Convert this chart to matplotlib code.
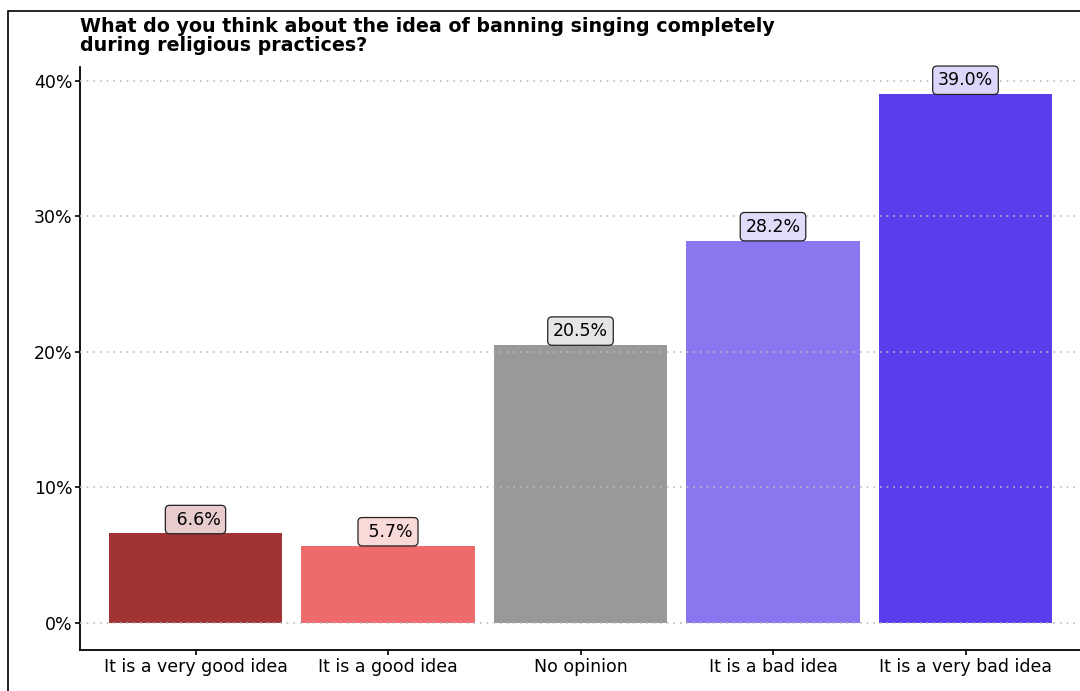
import matplotlib.pyplot as plt
from matplotlib.patches import Rectangle
from matplotlib.ticker import FuncFormatter

categories = ["It is a very good idea", "It is a good idea", "No opinion",
              "It is a bad idea", "It is a very bad idea"]
values = [6.6, 5.7, 20.5, 28.2, 39.0]
bar_colors = ["#A03333", "#EE6B6B", "#999999", "#8877EE", "#5B3DEB"]
label_colors = ["#E8CBCC", "#FAD9D9", "#E5E5E5", "#E1DCFA", "#DCD6FA"]
title = "What do you think about the idea of banning singing completely\nduring religious practices?"

fig = plt.figure(figsize=(10.8, 6.91), dpi=100)
ax = fig.add_axes([80 / 1080, 1 - 650 / 691, 1001 / 1080, (650 - 67) / 691])

# outer frame, partly cut off at right and bottom
fig.patches.append(Rectangle((8 / 1080, -0.2), 2.0, 1 - 11 / 691 + 0.2,
                             transform=fig.transFigure, fill=False,
                             edgecolor="black", linewidth=1.2))

x = range(len(categories))
ax.bar(x, values, width=0.9, color=bar_colors, zorder=1)

for xi, v, c in zip(x, values, label_colors):
    ax.annotate(f"{v:4.1f}%", (xi, v), xytext=(0, 3.5), textcoords="offset points",
                ha="center", va="bottom", fontsize=12.5, zorder=5,
                bbox=dict(boxstyle="round,pad=0.3,rounding_size=0.25",
                          facecolor=c, edgecolor="#222222", linewidth=0.9))

ax.set_xlim(-0.6, 4.6)
ax.set_ylim(-2, 41)
ax.set_yticks([0, 10, 20, 30, 40])
ax.yaxis.set_major_formatter(FuncFormatter(lambda v, p: f"{v:.0f}%"))
ax.set_xticks(list(x))
ax.set_xticklabels(categories)
ax.tick_params(axis="both", labelsize=12.5, length=3.5, width=1.2, color="black", pad=2)

ax.grid(axis="y", linestyle=(0, (1, 3)), color="#BBBBBB", linewidth=1.2, zorder=2)
ax.set_axisbelow(False)
for s in ["top", "right"]:
    ax.spines[s].set_visible(False)
for s in ["left", "bottom"]:
    ax.spines[s].set_linewidth(1.3)

fig.text(80 / 1080, 1 - 17 / 691, title, ha="left", va="top",
         fontsize=13.7, fontweight="bold", linespacing=1.0)

fig.savefig("out.png", dpi=100)
